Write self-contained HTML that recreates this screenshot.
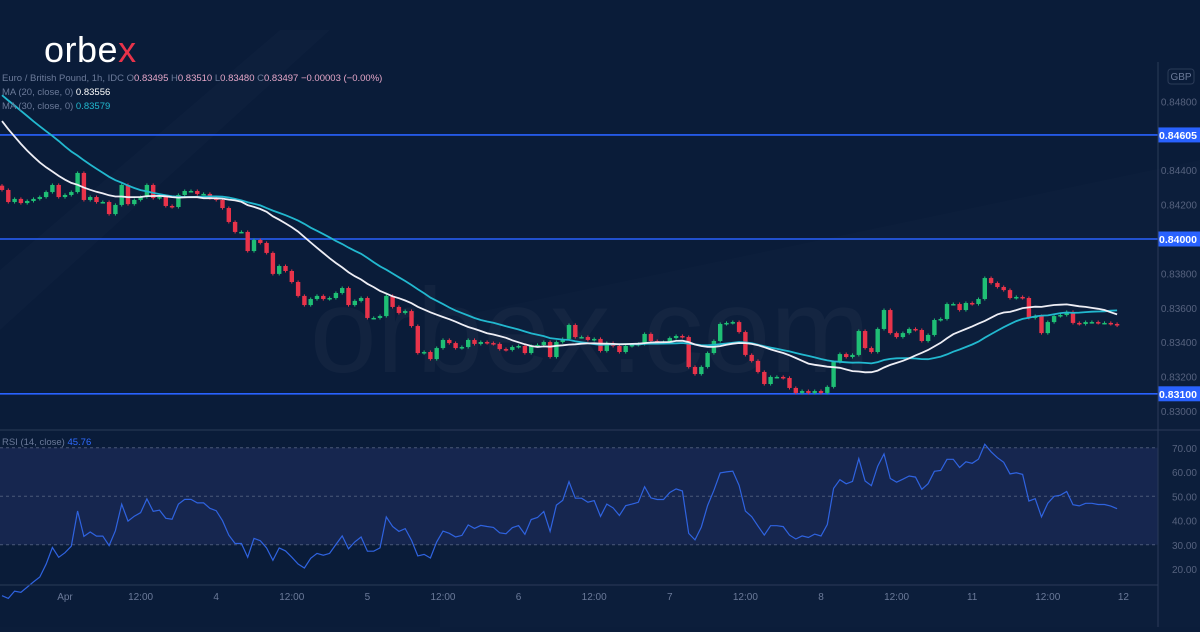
<!DOCTYPE html>
<html><head><meta charset="utf-8"><style>
html,body{margin:0;padding:0;background:#0b1d3a;}
body{width:1200px;height:627px;overflow:hidden;font-family:"Liberation Sans",sans-serif;}
svg text{font-family:"Liberation Sans",sans-serif;}
</style></head><body>
<svg id="chart" width="1200" height="627" viewBox="0 0 1200 627" xmlns="http://www.w3.org/2000/svg">
<rect x="0" y="0" width="1200" height="627" fill="#0a1c39"/>
<polygon points="0,330 0,270 280,30 330,30" fill="#ffffff" opacity="0.015"/>
<polygon points="440,627 440,320 1200,160 1200,627" fill="#ffffff" opacity="0.012"/>
<text x="590" y="372" font-size="120" fill="#ffffff" opacity="0.03" text-anchor="middle">orbex.com</text>
<g id="rsiBand"></g>
<g id="hlines"></g>
<g id="candles"></g>
<g id="mas"></g>
<g id="rsi"></g>
<line x1="0" y1="430" x2="1200" y2="430" stroke="#2b3b58" stroke-width="1"/>
<line x1="0" y1="585" x2="1158" y2="585" stroke="#2b3b58" stroke-width="1"/>
<line x1="1158" y1="62" x2="1158" y2="627" stroke="#2b3b58" stroke-width="1"/>
<g id="axes"></g>
<text x="44" y="62" font-size="36" fill="#ffffff" letter-spacing="0.5">orbe<tspan fill="#e8334a">x</tspan></text>
<rect x="1168" y="69" width="26" height="15" rx="3" fill="none" stroke="#2b3b58"/>
<text x="1181" y="80" font-size="10" fill="#6b7a99" text-anchor="middle">GBP</text>
<text x="2" y="81" font-size="9.5" fill="#6b7a99">Euro / British Pound, 1h, IDC <tspan>O</tspan><tspan fill="#e6a7c8">0.83495</tspan>  H<tspan fill="#e6a7c8">0.83510</tspan>  L<tspan fill="#e6a7c8">0.83480</tspan>  C<tspan fill="#e6a7c8">0.83497  −0.00003 (−0.00%)</tspan></text>
<text x="2" y="95" font-size="9.5" fill="#6b7a99">MA (20, close, 0) <tspan fill="#ffffff">0.83556</tspan></text>
<text x="2" y="109" font-size="9.5" fill="#6b7a99">MA (30, close, 0) <tspan fill="#22b8cf">0.83579</tspan></text>
<text x="2" y="445" font-size="9.5" fill="#6b7a99">RSI (14, close) <tspan fill="#2f6bff">45.76</tspan></text>
</svg>
<script>
const closes=[0.84285,0.84215,0.84233,0.84209,0.84221,0.84233,0.84244,0.84273,0.84314,0.84244,
0.84256,0.84273,0.84384,0.84227,0.84244,0.84215,0.84215,0.84145,0.84198,0.84314,
0.84203,0.84227,0.84244,0.84314,0.84238,0.84244,0.84192,0.84186,0.84256,0.84279,
0.84279,0.84262,0.84262,0.84238,0.84227,0.84180,0.84099,0.84041,0.84041,0.83930,
0.83994,0.83977,0.83919,0.83797,0.83843,0.83814,0.83750,0.83669,0.83616,0.83651,
0.83669,0.83651,0.83657,0.83686,0.83715,0.83616,0.83640,0.83657,0.83541,0.83541,
0.83552,0.83669,0.83605,0.83570,0.83581,0.83494,0.83337,0.83343,0.83302,0.83366,
0.83413,0.83395,0.83366,0.83372,0.83413,0.83390,0.83401,0.83395,0.83390,0.83360,
0.83355,0.83372,0.83378,0.83337,0.83378,0.83384,0.83401,0.83314,0.83401,0.83419,
0.83500,0.83430,0.83430,0.83413,0.83419,0.83349,0.83395,0.83378,0.83343,0.83378,
0.83384,0.83390,0.83448,0.83407,0.83401,0.83401,0.83424,0.83436,0.83430,0.83256,
0.83215,0.83256,0.83337,0.83407,0.83506,0.83512,0.83517,0.83459,0.83326,0.83291,
0.83227,0.83157,0.83198,0.83198,0.83192,0.83134,0.83105,0.83116,0.83105,0.83116,
0.83105,0.83140,0.83285,0.83331,0.83314,0.83326,0.83465,0.83366,0.83343,0.83477,
0.83587,0.83453,0.83430,0.83453,0.83477,0.83471,0.83407,0.83442,0.83529,0.83535,
0.83622,0.83622,0.83587,0.83628,0.83622,0.83651,0.83773,0.83744,0.83721,0.83703,
0.83657,0.83663,0.83657,0.83541,0.83552,0.83453,0.83517,0.83552,0.83558,0.83576,
0.83512,0.83506,0.83517,0.83517,0.83512,0.83512,0.83506,0.83497];
const priorCloses=[0.8512,0.8513,0.8511,0.8514,0.8512,0.8515,0.8513,0.8512,0.8514,0.8513,
0.8520,0.8515,0.8510,0.8505,0.8500,0.8495,0.8490,0.8485,0.8480,0.8475,
0.8470,0.8465,0.8460,0.8455,0.8450,0.8445,0.8440,0.8437,0.8434,0.8431];
const priceTicks=[0.848,0.844,0.842,0.838,0.836,0.834,0.832,0.830];
const levels=[0.84605,0.84000,0.83100];
const rsiTicks=[70,60,50,40,30,20];
const timeLabels=["Apr","12:00","4","12:00","5","12:00","6","12:00","7","12:00","8","12:00","11","12:00","12"];
const timeLabelIndex=[10,22,34,46,58,70,82,94,106,118,130,142,154,166,178];

const NS="http://www.w3.org/2000/svg";
const X0=2,STEP=6.3;
const xAt=i=>X0+STEP*i;
const yP=p=>239+(0.84-p)*17200;
const yR=v=>569-(v-20)*2.425;
function mk(tag,attrs,parent){const e=document.createElementNS(NS,tag);for(const k in attrs)e.setAttribute(k,attrs[k]);parent.appendChild(e);return e;}

const band=document.getElementById('rsiBand');
const br=mk('rect',{x:0,y:yR(70),width:1158,height:yR(30)-yR(70),fill:'#16264f'},band);


[70,50,30].forEach(v=>{
  const l=mk('line',{x1:0,x2:1158,y1:yR(v),y2:yR(v),stroke:'#4a5878','stroke-dasharray':'3,3','stroke-width':1},band);
  
  
});

const hl=document.getElementById('hlines');
levels.forEach(p=>{
  const l=mk('line',{x1:0,x2:1158,y1:yP(p),y2:yP(p),stroke:'#2962ff','stroke-width':1.6},hl);
  
  
  const r=mk('rect',{x:1158,y:yP(p)-7.5,width:42,height:15,fill:'#2962ff'},hl);
  
  
  const t=mk('text',{x:1197,y:yP(p)+4,'font-size':10.5,'font-weight':'bold',fill:'#ffffff','text-anchor':'end'},hl);
  t.textContent=p.toFixed(5);
  
  
});

const cg=document.getElementById('candles');
closes.forEach((c,i)=>{
  const o=i===0?priorCloses[priorCloses.length-1]:closes[i-1];
  const up=c>=o;
  const col=up?'#1fbf75':'#e8334a';
  const hi=Math.max(o,c)+0.00009, lo=Math.min(o,c)-0.00009;
  const x=xAt(i);
  const w=mk('line',{x1:x,x2:x,y1:yP(hi),y2:yP(lo),stroke:col,'stroke-width':1},cg);
  
  
  const top=yP(Math.max(o,c)),bot=yP(Math.min(o,c));
  const b=mk('rect',{x:x-2.2,y:top,width:4.4,height:Math.max(1.5,bot-top),fill:col},cg);
  
  
});

const all=priorCloses.concat(closes);
function ma(n){return closes.map((c,i)=>{const j=i+priorCloses.length;let s=0;for(let k=j-n+1;k<=j;k++)s+=all[k];return s/n;});}
const mg=document.getElementById('mas');
[[30,'#22b8cf','ma30-line'],[20,'#eeeef5','ma20-line']].forEach(([n,col,name])=>{
  const v=ma(n);
  const d=v.map((p,i)=>(i?'L':'M')+xAt(i).toFixed(1)+','+yP(p).toFixed(1)).join(' ');
  const pth=mk('path',{d:d,fill:'none',stroke:col,'stroke-width':1.8},mg);
  
  
});

function rsi(n){let g=0,l=0;const out=[];for(let k=1;k<all.length;k++){const ch=all[k]-all[k-1];const up=Math.max(ch,0),dn=Math.max(-ch,0);
 if(k<=n){g+=up/n;l+=dn/n;}else{g=(g*(n-1)+up)/n;l=(l*(n-1)+dn)/n;}
 if(k>=priorCloses.length){out.push(l===0?100:100-100/(1+g/l));}}return out;}
const rv=rsi(14);
const rg=document.getElementById('rsi');
const rp=mk('path',{d:rv.map((v,i)=>(i?'L':'M')+xAt(i).toFixed(1)+','+yR(v).toFixed(1)).join(' '),fill:'none',stroke:'#2f63e0','stroke-width':1.2},rg);



const ax=document.getElementById('axes');
priceTicks.forEach(p=>{
  const t=mk('text',{x:1197,y:yP(p)+4,'font-size':10,fill:'#56627e','text-anchor':'end'},ax);
  t.textContent=p.toFixed(5);
  
  
});
rsiTicks.forEach(v=>{
  const t=mk('text',{x:1197,y:yR(v)+4,'font-size':10,fill:'#56627e','text-anchor':'end'},ax);
  t.textContent=v.toFixed(2);
  
  
});
timeLabels.forEach((s,k)=>{
  const t=mk('text',{x:X0+STEP*(timeLabelIndex[k]-0.4)+2.5,y:600,'font-size':10,fill:'#6b7a99','text-anchor':'middle'},ax);
  t.textContent=s;
  
  
});
</script>
</body></html>
